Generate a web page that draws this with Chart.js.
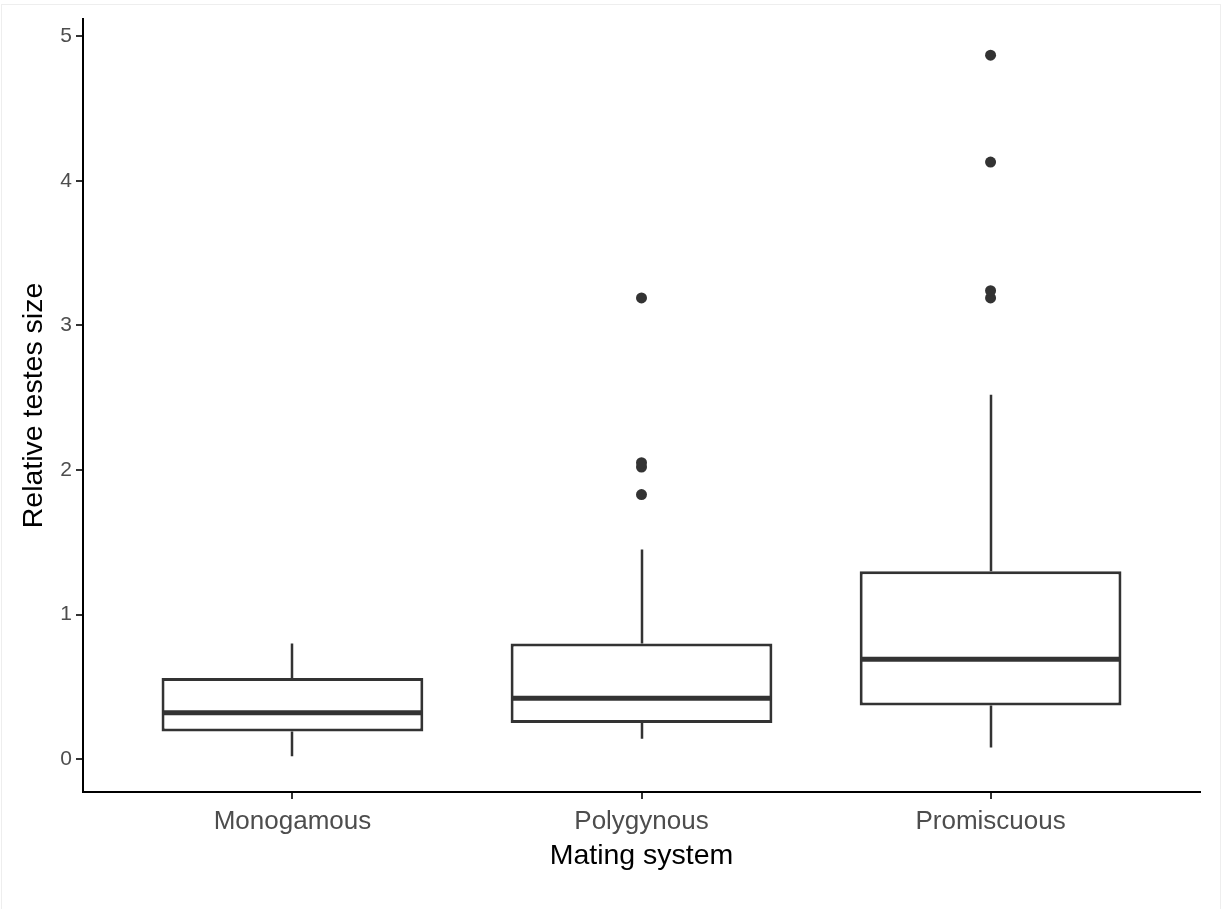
<!DOCTYPE html>
<html>
<head>
<meta charset="utf-8">
<script src="https://cdn.jsdelivr.net/npm/chart.js@4.4.1/dist/chart.umd.min.js"></script>
<style>
  html, body { margin: 0; padding: 0; background: #fff; }
  #wrap { position: relative; width: 1225px; height: 909px; }
  #frame { position: absolute; left: 1px; top: 4px; width: 1220px; height: 910px; border: 1px solid #eeeeee; box-sizing: border-box; pointer-events: none; }
</style>
</head>
<body>
<div id="wrap">
  <canvas id="chart" width="1225" height="909"></canvas>
  <div id="frame"></div>
</div>
<script>
// mating systems on the x axis
const categories = ['Monogamous', 'Polygynous', 'Promiscuous']
// box statistics
const lowerWhisker = [0.02, 0.14, 0.08]
const q1 = [0.19, 0.25, 0.37]
const medians = [0.32, 0.42, 0.69]
const q3 = [0.56, 0.80, 1.30]
const upperWhisker = [0.80, 1.45, 2.52]
// outliers per group
const outliersMono = []
const outliersPoly = [1.83, 2.02, 2.05, 3.19]
const outliersProm = [3.19, 3.24, 4.13, 4.87]
const yTicks = [0, 1, 2, 3, 4, 5]

const dark = '#333333'

const boxData = categories.map((c, i) => ({ x: i + 1, y: [q1[i], q3[i]] }))
const outlierData = []
;[outliersMono, outliersPoly, outliersProm].forEach((arr, i) => {
  arr.forEach(v => outlierData.push({ x: i + 1, y: v }))
})

// whiskers and median lines, placed with the chart scales
const boxExtras = {
  id: 'boxExtras',
  beforeDatasetsDraw(chart) {
    const { ctx, scales: { x, y } } = chart
    ctx.save()
    ctx.strokeStyle = dark
    ctx.lineWidth = 2.5
    categories.forEach((c, i) => {
      const px = Math.round(x.getPixelForValue(i + 1))
      ctx.beginPath()
      ctx.moveTo(px, y.getPixelForValue(q3[i]))
      ctx.lineTo(px, y.getPixelForValue(upperWhisker[i]))
      ctx.moveTo(px, y.getPixelForValue(q1[i]))
      ctx.lineTo(px, y.getPixelForValue(lowerWhisker[i]))
      ctx.stroke()
    })
    ctx.restore()
  },
  afterDatasetsDraw(chart) {
    const { ctx, scales: { y } } = chart
    const meta = chart.getDatasetMeta(0)
    ctx.save()
    ctx.strokeStyle = dark
    ctx.lineWidth = 5
    categories.forEach((c, i) => {
      const bar = meta.data[i]
      const half = bar.width / 2
      const py = y.getPixelForValue(medians[i])
      ctx.beginPath()
      ctx.moveTo(bar.x - half + 1, py)
      ctx.lineTo(bar.x + half - 1, py)
      ctx.stroke()
    })
    ctx.restore()
  }
}

new Chart(document.getElementById('chart'), {
  data: {
    datasets: [
      {
        type: 'bar',
        label: 'box',
        data: boxData,
        backgroundColor: '#ffffff',
        borderColor: dark,
        borderWidth: 3,
        borderSkipped: false,
        barPercentage: 0.75,
        categoryPercentage: 1
      },
      {
        type: 'scatter',
        label: 'outliers',
        data: outlierData,
        pointRadius: 5.5,
        pointBackgroundColor: dark,
        pointBorderWidth: 0
      }
    ]
  },
  options: {
    responsive: false,
    animation: false,
    layout: { padding: { left: 0, top: 19, right: 25, bottom: 0 } },
    plugins: { legend: { display: false }, tooltip: { enabled: false } },
    scales: {
      x: {
        type: 'linear',
        min: 0.4,
        max: 3.6,
        offset: false,
        afterBuildTicks: s => { s.ticks = categories.map((c, i) => ({ value: i + 1 })) },
        afterFit: s => { s.height = 117 },
        ticks: {
          callback: v => categories[v - 1],
          color: '#4d4d4d',
          font: { family: 'Liberation Sans, Arial, sans-serif', size: 26 },
          padding: 7,
          maxRotation: 0
        },
        grid: { drawOnChartArea: false, offset: false, color: dark, tickLength: 7, lineWidth: 2 },
        border: { display: true, color: '#000000', width: 2 },
        title: {
          display: true,
          text: 'Mating system',
          color: '#000000',
          font: { family: 'Liberation Sans, Arial, sans-serif', size: 28.5 },
          padding: { top: 0, bottom: 36 }
        }
      },
      y: {
        type: 'linear',
        min: -0.228,
        max: 5.12,
        afterBuildTicks: s => { s.ticks = yTicks.map(v => ({ value: v })) },
        afterFit: s => { s.width = 83 },
        ticks: {
          color: '#4d4d4d',
          font: { family: 'Liberation Sans, Arial, sans-serif', size: 21 },
          padding: 4
        },
        grid: { drawOnChartArea: false, color: dark, tickLength: 7, lineWidth: 2 },
        border: { display: true, color: '#000000', width: 2 },
        title: {
          display: true,
          text: 'Relative testes size',
          color: '#000000',
          font: { family: 'Liberation Sans, Arial, sans-serif', size: 28.5 },
          padding: { top: 17, bottom: 0 }
        }
      }
    }
  },
  plugins: [boxExtras]
})
</script>
</body>
</html>
